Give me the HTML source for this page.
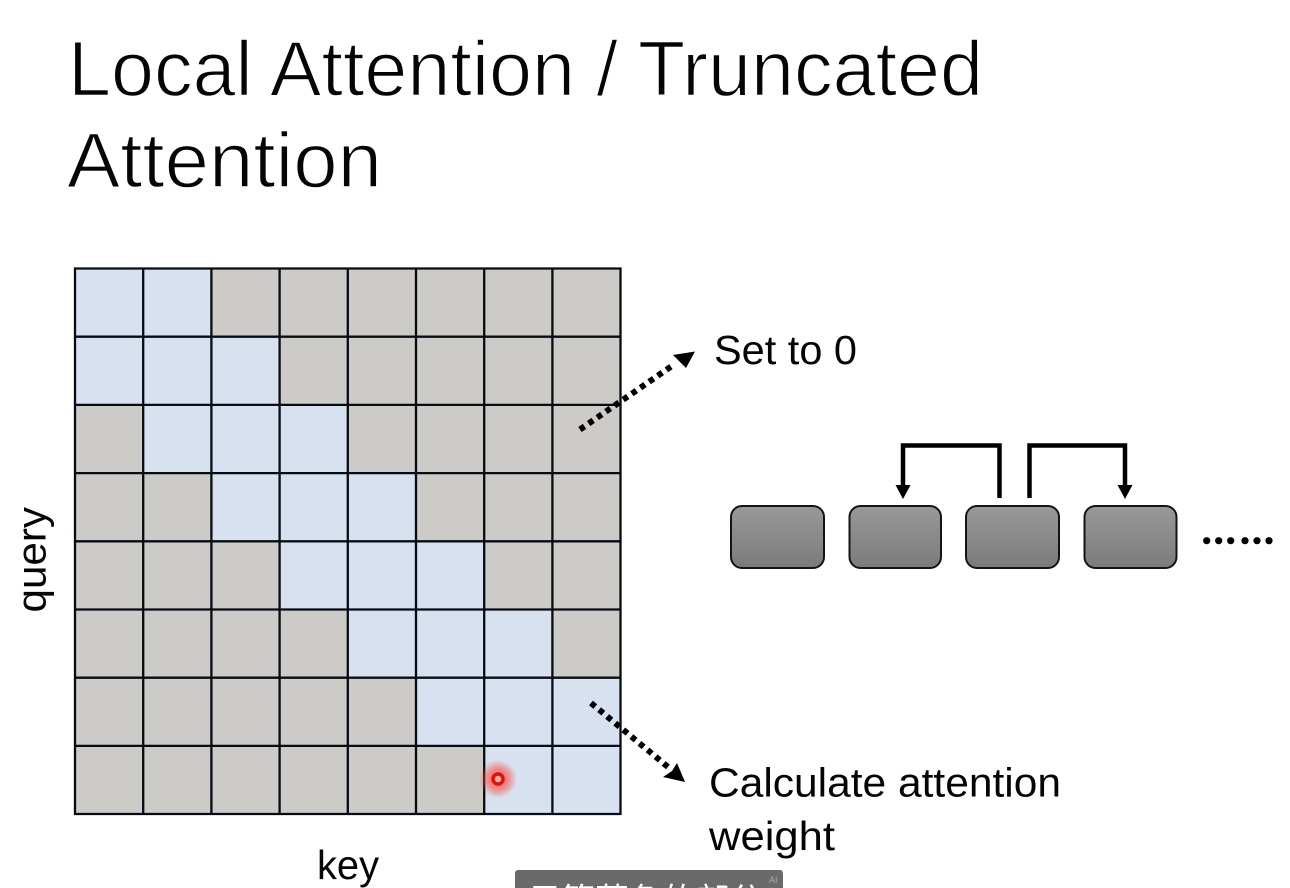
<!DOCTYPE html>
<html>
<head>
<meta charset="utf-8">
<style>
html,body{margin:0;padding:0;background:#fff;width:1290px;height:888px;overflow:hidden}
svg{display:block}
text{font-family:"Liberation Sans","Noto Sans CJK SC",sans-serif;fill:#050505}
</style>
</head>
<body>
<svg width="1290" height="888" viewBox="0 0 1290 888" xmlns="http://www.w3.org/2000/svg">
<defs>
<linearGradient id="g" x1="0" y1="0" x2="0" y2="1">
<stop offset="0" stop-color="#999"/>
<stop offset="1" stop-color="#7b7b7b"/>
</linearGradient>
<radialGradient id="glow">
<stop offset="0" stop-color="#ff2a1a" stop-opacity=".85"/>
<stop offset=".6" stop-color="#ff4a3a" stop-opacity=".5"/>
<stop offset="1" stop-color="#ff4a3a" stop-opacity="0"/>
</radialGradient>
</defs>
<rect width="1290" height="888" fill="#fff"/>

<text x="68" y="95.500" font-size="78" textLength="915" lengthAdjust="spacingAndGlyphs" stroke="#fff" stroke-width="1.500">Local Attention / Truncated</text>
<text x="67" y="187" font-size="78" textLength="315" lengthAdjust="spacingAndGlyphs" stroke="#fff" stroke-width="1.500">Attention</text>

<rect x="75" y="268.500" width="545.500" height="545.500" fill="#cccbc8"/>
<g fill="#d7e1f0">
<rect x="75" y="268.500" width="136.400" height="68.200"/>
<rect x="75" y="336.700" width="204.600" height="68.200"/>
<rect x="143.200" y="404.900" width="204.600" height="68.200"/>
<rect x="211.400" y="473.100" width="204.600" height="68.200"/>
<rect x="279.600" y="541.300" width="204.600" height="68.200"/>
<rect x="347.800" y="609.500" width="204.600" height="68.200"/>
<rect x="416" y="677.700" width="204.600" height="68.200"/>
<rect x="484.200" y="745.900" width="136.400" height="68.200"/>
</g>
<g stroke="#070b12" stroke-width="2.300" fill="none">
<path d="M75 267.500V815M143.200 267.500V815M211.400 267.500V815M279.600 267.500V815M347.800 267.500V815M416 267.500V815M484.200 267.500V815M552.400 267.500V815M620.500 267.500V815"/>
<path d="M74 268.500H621.500M74 336.700H621.500M74 404.900H621.500M74 473.100H621.500M74 541.300H621.500M74 609.500H621.500M74 677.700H621.500M74 745.900H621.500M74 814H621.500"/>
</g>

<circle cx="498" cy="779" r="19" fill="url(#glow)"/>
<circle cx="498" cy="779" r="5" fill="#f3b0a8" stroke="#e0100a" stroke-width="3.400"/>

<path d="M580 429.500L674 364.500" stroke="#000" stroke-width="6" stroke-dasharray="5.500 5" fill="none"/>
<path d="M695 351.500L673 355L679 361L686 368Z" fill="#000"/>
<path d="M591 703L668 767" stroke="#000" stroke-width="6" stroke-dasharray="5.500 5" fill="none"/>
<path d="M685 782L677 763L672 771L663 777Z" fill="#000"/>

<text x="714" y="364" font-size="41" textLength="143" lengthAdjust="spacingAndGlyphs">Set to 0</text>
<text x="709" y="796.500" font-size="41" textLength="352" lengthAdjust="spacingAndGlyphs">Calculate attention</text>
<text x="709" y="850" font-size="41" textLength="126" lengthAdjust="spacingAndGlyphs">weight</text>
<text x="317" y="879" font-size="41" textLength="62" lengthAdjust="spacingAndGlyphs">key</text>
<text transform="translate(45.500 612.500) rotate(-90)" font-size="41" textLength="105.500" lengthAdjust="spacingAndGlyphs">query</text>

<g fill="url(#g)" stroke="#141414" stroke-width="2">
<rect x="731" y="506" width="93" height="62" rx="11"/>
<rect x="849.500" y="506" width="91.500" height="62" rx="11"/>
<rect x="966" y="506" width="93" height="62" rx="11"/>
<rect x="1084.500" y="506" width="92" height="62" rx="11"/>
</g>

<g fill="none" stroke="#000" stroke-width="4.500">
<path d="M999.500 498V445.500H903V486"/>
<path d="M1029.500 498V445.500H1125V486"/>
</g>
<path d="M895.500 485H910.500L903 499Z" fill="#000"/>
<path d="M1117.500 485H1132.500L1125 499Z" fill="#000"/>

<g fill="#000">
<circle cx="1206.700" cy="540.700" r="3.600"/>
<circle cx="1218.700" cy="540.700" r="3.600"/>
<circle cx="1230.700" cy="540.700" r="3.600"/>
<circle cx="1245" cy="540.700" r="3.600"/>
<circle cx="1257" cy="540.700" r="3.600"/>
<circle cx="1269" cy="540.700" r="3.600"/>
</g>

<path d="M515 888V873a3 3 0 0 1 3-3H780a3 3 0 0 1 3 3V888Z" fill="#6a6a6a"/>
<svg x="515" y="870" width="268" height="18" viewBox="515 870 268 18">
<text x="528" y="912.500" font-size="34" style="fill:#fff" textLength="235" lengthAdjust="spacingAndGlyphs">只算蓝色的部分</text>
</svg>
<text x="769" y="883" font-size="9" style="fill:#a8a8a8">AI</text>
</svg>
</body>
</html>
